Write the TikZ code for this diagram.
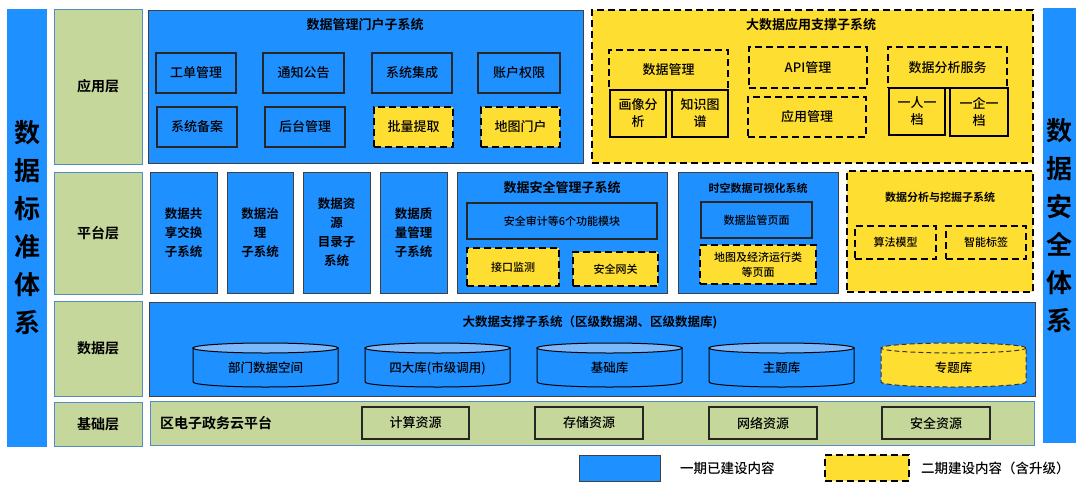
\documentclass[tikz,border=0pt]{standalone}
\usepackage{fontspec}
\setmainfont{Noto Sans CJK SC}[UprightFont=* Medium, BoldFont=* Bold]
\definecolor{bl}{RGB}{30,144,255}
\definecolor{yl}{RGB}{255,222,50}
\definecolor{gr}{RGB}{197,215,155}
\definecolor{gb}{RGB}{80,140,200}
\definecolor{cyltop}{RGB}{125,185,250}
\tikzset{
 base/.style={inner sep=0pt, align=center, text=black, font=\fontsize{13}{17}\selectfont},
 bluebig/.style={base, fill=bl, draw=black!75, line width=1pt},
 bluein/.style={base, fill=bl, draw=black!85, line width=1.1pt},
 ydash/.style={base, fill=yl, draw=black, line width=2pt, dash pattern=on 7pt off 4pt},
 ysolid/.style={base, fill=yl, draw=black, line width=1.3pt},
 layer/.style={base, fill=gr, draw=gb, line width=1pt, font=\fontsize{14}{16}\selectfont\bfseries},
 side/.style={base, fill=bl, font=\fontsize{26}{38}\selectfont\bfseries},
 res/.style={base, fill=gr, draw=black!85, line width=1.3pt},
 ttl/.style={inner sep=0pt, text=black, font=\fontsize{13}{16}\selectfont\bfseries},
 sttl/.style={inner sep=0pt, text=black, font=\fontsize{11}{14}\selectfont\bfseries},
 small/.style={font=\fontsize{11}{15}\selectfont},
 plat/.style={bluebig, font=\fontsize{12.5}{19}\selectfont\bfseries},
 lgtext/.style={inner sep=0pt, anchor=west, text=black, font=\fontsize{13.5}{16}\selectfont},
}
\newcommand\bx[7]{%
 \pgfmathsetmacro\bw{#5-#3}\pgfmathsetmacro\bh{#6-#4}%
 \node[#2, minimum width=\bw pt, minimum height=\bh pt] (#1) at ({(#3+#5)/2},{(#4+#6)/2}) {#7};}
% name, x1, x2, ytop, ybot, text, style
\newcommand\cyl[7]{%
 \pgfmathsetmacro\rx{(#3-#2)/2}\pgfmathsetmacro\cx{(#3+#2)/2}%
 \filldraw[#7] (#2,#4) -- (#2,#5) arc[start angle=180,end angle=360,x radius=\rx pt,y radius=5pt] -- (#3,#4) -- cycle;
 \filldraw[#7, fill=\cyltopcolor] (\cx,#4) ellipse[x radius=\rx pt, y radius=5pt];
 \node[base, font=\fontsize{12.5}{15}\selectfont] (#1) at (\cx,{(#4+#5)/2+3}) {#6};}
\def\cyltopcolor{cyltop}
\begin{document}
\begin{tikzpicture}[x=1pt,y=-1pt]
\useasboundingbox (0,0) rectangle (1078,482);
\fill[white] (0,0) rectangle (1078,482);
% side bars
\bx{lbar}{side}{7}{9}{47}{447}{数\\据\\标\\准\\体\\系}
\bx{rbar}{side}{1043}{8}{1076}{443}{数\\据\\安\\全\\体\\系}
% layers
\bx{l1}{layer}{54}{9}{142}{164}{应用层}
\bx{l2}{layer}{54}{172}{142}{294}{平台层}
\bx{l3}{layer}{54}{301}{142}{396}{数据层}
\bx{l4}{layer}{54}{402}{142}{446}{基础层}
% application layer: portal
\bx{portal}{bluebig}{148}{10}{583}{163}{}
\node[ttl] (portalt) at (365,25) {数据管理门户子系统};
\bx{gd}{bluein}{156}{53}{236}{93}{工单管理}
\bx{tz}{bluein}{263}{53}{344}{93}{通知公告}
\bx{xj}{bluein}{372}{53}{452}{93}{系统集成}
\bx{zh}{bluein}{478}{53}{560}{93}{账户权限}
\bx{ba}{bluein}{157}{107}{237}{147}{系统备案}
\bx{ht}{bluein}{265}{107}{345}{147}{后台管理}
\bx{pl}{ydash}{374}{107}{453}{147}{批量提取}
\bx{dt}{ydash}{481}{107}{560}{147}{地图门户}
% application layer: big data app support
\bx{bigapp}{ydash}{592}{10}{1033}{163}{}
\node[ttl] (bigappt) at (811,25) {大数据应用支撑子系统};
\bx{sjgl}{ydash}{609}{50}{728}{90}{数据管理}
\bx{hx}{ysolid}{610}{90}{666}{137}{画像分\\析}
\bx{zs}{ysolid}{672}{90}{728}{137}{知识图\\谱}
\bx{api}{ydash}{749}{47}{867}{88}{API管理}
\bx{yygl}{ydash}{748}{97}{866}{137}{应用管理}
\bx{fxfw}{ydash}{888}{47}{1007}{88}{数据分析服务}
\bx{yr}{ysolid}{889}{88}{945}{135}{一人一\\档}
\bx{yq}{ysolid}{950}{88}{1008}{136}{一企一\\档}
% platform layer
\bx{ps1}{plat}{150}{172}{217}{293}{数据共\\享交换\\子系统}
\bx{ps2}{plat}{227}{172}{293}{293}{数据治\\理\\子系统}
\bx{ps3}{plat}{303}{172}{370}{293}{数据资\\源\\目录子\\系统}
\bx{ps4}{plat}{380}{172}{447}{293}{数据质\\量管理\\子系统}
\bx{sec}{bluebig}{457}{172}{667}{293}{}
\node[ttl] (sect) at (562,188) {数据安全管理子系统};
\bx{audit}{bluein,small}{467}{203}{657}{239}{安全审计等6个功能模块}
\bx{jk}{ydash,small}{467}{248}{559}{286}{接口监测}
\bx{wg}{ydash,small}{573}{252}{658}{286}{安全网关}
\bx{vis}{bluebig}{678}{172}{838}{293}{}
\node[sttl] (vist) at (758,188) {时空数据可视化系统};
\bx{jg}{bluein,small}{701}{202}{812}{238}{数据监管页面}
\bx{dtjj}{ydash,small}{700}{245}{816}{284}{地图及经济运行类\\等页面}
\bx{mine}{ydash}{847}{171}{1033}{292}{}
\node[sttl] (minet) at (940,197) {数据分析与挖掘子系统};
\bx{sf}{ydash,small}{855}{226}{936}{259}{算法模型}
\bx{zn}{ydash,small}{946}{226}{1026}{259}{智能标签}
% data layer
\bx{dsj}{bluebig}{149}{302}{1035}{396}{}
\node[ttl, font=\fontsize{12.5}{15}\selectfont\bfseries] (dsjt) at (590,322) {大数据支撑子系统（区级数据湖、区级数据库)};
\cyl{c1}{193}{338}{348}{382}{部门数据空间}{fill=bl, draw=black, line width=1pt}
\cyl{c2}{365}{510}{348}{382}{四大库(市级调用)}{fill=bl, draw=black, line width=1pt}
\cyl{c3}{537}{682}{348}{382}{基础库}{fill=bl, draw=black, line width=1pt}
\cyl{c4}{709}{854}{348}{382}{主题库}{fill=bl, draw=black, line width=1pt}
\def\cyltopcolor{yl}
\cyl{c5}{881}{1026}{348}{382}{专题库}{fill=yl, draw=black!80, line width=1pt, dash pattern=on 5pt off 3pt}
% base layer
\bx{yun}{layer}{150}{401}{1034}{445}{}
\node[inner sep=0pt, anchor=west, font=\fontsize{14}{16}\selectfont\bfseries] (yunt) at (160,423) {区电子政务云平台};
\bx{js}{res}{362}{407}{469}{439}{计算资源}
\bx{cc}{res}{535}{407}{643}{439}{存储资源}
\bx{wl}{res}{709}{407}{817}{439}{网络资源}
\bx{aq}{res}{882}{407}{990}{439}{安全资源}
% legend
\bx{lg1}{bluebig}{579}{455}{660}{481}{}
\node[lgtext] (lg1t) at (680,468) {一期已建设内容};
\bx{lg2}{ydash}{825}{455}{909}{481}{}
\node[lgtext] (lg2t) at (921,468) {二期建设内容（含升级）};
\end{tikzpicture}
\end{document}
